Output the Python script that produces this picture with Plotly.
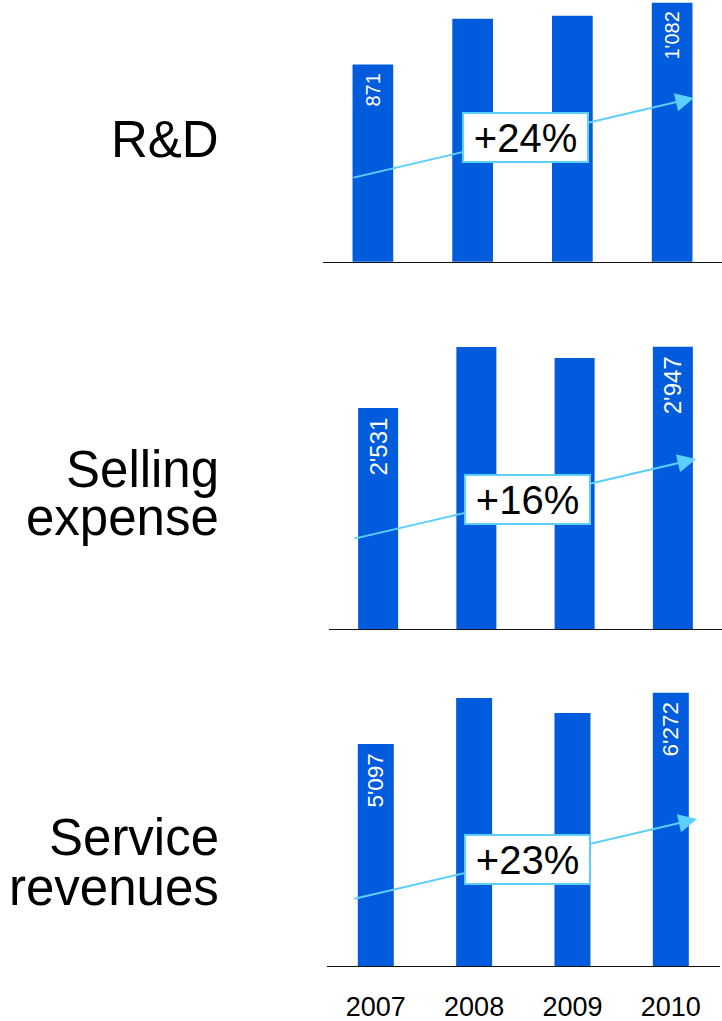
import plotly.graph_objects as go

# ---------------- data ----------------
years = ["2007", "2008", "2009", "2010"]
rnd = [871, 1027, 1037, 1082]
selling = [2531, 2945, 2870, 2947]
service = [5097, 6150, 5810, 6272]
series = [rnd, selling, service]
panel_titles = [["R&D"], ["Selling", "expense"], ["Service", "revenues"]]

# ---------------- styling / geometry (pixels) ----------------
W, H = 722, 1021
BAR = "#005BDD"
ARROW = "#5CCFFF"
FONT = "Liberation Sans, Arial, Helvetica, sans-serif"

panels = [
    dict(top=0, bottom=261.7, left=323, right=722, yr=[200, 1091], bw=0.408, vfont=20,
         tail=(352, 178), tip=(694, 98), box=(525.7, 137.2), title_base=[157]),
    dict(top=330, bottom=629.3, left=329, right=722, yr=[1030, 3060], bw=0.407, vfont=24,
         tail=(353, 539), tip=(696, 459), box=(527, 499.7), title_base=[486.7, 535]),
    dict(top=680, bottom=966, left=326.6, right=720, yr=[0, 6566], bw=0.366, vfont=22.5,
         tail=(353, 899), tip=(697, 819), box=(527.3, 859.7), title_base=[855, 905]),
]


def px_x(x):
    return x / W


def px_y(y):
    return 1 - y / H


def fmt(v):
    return f"{v:,}".replace(",", "'")


fig = go.Figure()
annotations = []
layout_axes = {}

for k, (vals, p, title) in enumerate(zip(series, panels, panel_titles), start=1):
    xa = "x" if k == 1 else f"x{k}"
    ya = "y" if k == 1 else f"y{k}"
    # value labels only on first and last bar (trailing nbsp gives extra top padding)
    labels = [fmt(v) + "\u00a0" if i in (0, len(vals) - 1) else "" for i, v in enumerate(vals)]
    fig.add_trace(go.Bar(
        x=years, y=vals, marker_color=BAR, marker_line_width=0, width=p["bw"],
        text=labels, textposition="inside", insidetextanchor="end", textangle=-90,
        insidetextfont=dict(family=FONT, size=p["vfont"], color="white"),
        cliponaxis=False, constraintext="none",
        xaxis=xa, yaxis=ya, showlegend=False, hoverinfo="x+y",
    ))

    layout_axes[f"xaxis{'' if k == 1 else k}"] = dict(
        type="category", range=[-0.5, 3.5], anchor=ya, automargin=False,
        domain=[px_x(p["left"]), px_x(p["right"])],
        showline=True, linecolor="#111", linewidth=1.2,
        showgrid=False, zeroline=False, ticks="",
        showticklabels=(k == 3),
        tickfont=dict(family=FONT, size=27, color="#000"),
        ticklabelstandoff=16,
    )
    layout_axes[f"yaxis{'' if k == 1 else k}"] = dict(
        range=p["yr"], anchor=xa, automargin=False,
        domain=[px_y(p["bottom"]), px_y(p["top"])],
        visible=False, showgrid=False, zeroline=False,
    )

    # trend arrow
    tx, ty = p["tip"]
    sx, sy = p["tail"]
    annotations.append(dict(
        x=px_x(tx), y=px_y(ty), xref="paper", yref="paper",
        ax=sx - tx, ay=sy - ty, axref="pixel", ayref="pixel",
        showarrow=True, arrowhead=2, arrowsize=1.85, arrowwidth=2,
        arrowcolor=ARROW, text="",
    ))

    # growth box
    growth = round((vals[-1] / vals[0] - 1) * 100)
    bx, by = p["box"]
    annotations.append(dict(
        x=px_x(bx), y=px_y(by), xref="paper", yref="paper",
        text=f"+{growth}%", showarrow=False, xanchor="center", yanchor="middle",
        width=123, height=47, borderwidth=2, borderpad=0,
        bordercolor=ARROW, bgcolor="white",
        font=dict(family=FONT, size=40, color="#000"),
    ))

    # left titles (one annotation per line)
    for line, base in zip(title, p["title_base"]):
        annotations.append(dict(
            x=px_x(221), y=px_y(base - 17.5), xref="paper", yref="paper",
            text=line, showarrow=False, xanchor="right", yanchor="middle",
            font=dict(family=FONT, size=51, color="#000"),
        ))

fig.update_layout(
    width=W, height=H, autosize=False,
    margin=dict(l=0, r=0, t=0, b=0, autoexpand=False),
    paper_bgcolor="white", plot_bgcolor="white",
    font=dict(family=FONT),
    annotations=annotations,
    **layout_axes,
)

fig.write_html("out.html")
